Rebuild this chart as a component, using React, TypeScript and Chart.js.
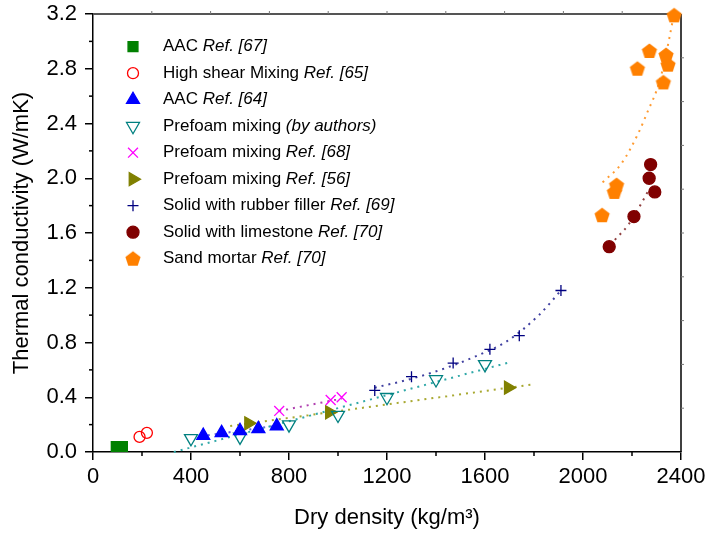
import React, { useEffect, useRef } from 'react';
import { Chart, registerables } from 'chart.js';
import { drawPoint } from 'chart.js/helpers';

Chart.register(...registerables);

const FONT = '"Liberation Sans", Arial, Helvetica, sans-serif';

// ---- data ----
const aac67X = [95, 120];
const aac67Y = [0.04, 0.04];
const shearX = [190, 220];
const shearY = [0.11, 0.14];
const aac64X = [450, 525, 600, 675, 750];
const aac64Y = [0.12, 0.14, 0.155, 0.17, 0.19];
const authorsX = [400, 600, 800, 1000, 1200, 1400, 1600];
const authorsY = [0.1, 0.11, 0.2, 0.27, 0.4, 0.53, 0.64];
const ref68X = [760, 970, 1015];
const ref68Y = [0.3, 0.38, 0.4];
const ref56X = [635, 965, 1695];
const ref56Y = [0.21, 0.29, 0.47];
const rubberX = [1150, 1300, 1470, 1620, 1740, 1910];
const rubberY = [0.45, 0.55, 0.65, 0.75, 0.85, 1.18];
const limeX = [2107, 2208, 2293, 2270, 2276];
const limeY = [1.5, 1.72, 1.9, 2.0, 2.1];
const sandX = [2078, 2128, 2137, 2222, 2271, 2328, 2347, 2339, 2372];
const sandY = [1.73, 1.9, 1.95, 2.8, 2.93, 2.7, 2.83, 2.9, 3.19];

// trend lines (dotted)
const trendAuthorsX = [330, 1700];
const trendAuthorsY = [0, 0.655];
const trend56X = [560, 1800];
const trend56Y = [0.19, 0.495];
const trend68X = [760, 1015];
const trend68Y = [0.3, 0.39];
const trend64X = [440, 760];
const trend64Y = [0.115, 0.195];
const trendRubberX = [1150, 1300, 1450, 1550, 1690, 1820, 1910];
const trendRubberY = [0.47, 0.535, 0.62, 0.69, 0.81, 1.0, 1.18];
const trendLimeX = [2130, 2185, 2233, 2267];
const trendLimeY = [1.55, 1.66, 1.8, 1.91];
const trendSandX = [2080, 2158, 2226, 2267, 2301, 2328, 2352, 2366];
const trendSandY = [1.97, 2.11, 2.33, 2.5, 2.645, 2.815, 3.02, 3.15];

const seriesNames = [
  'AAC ',
  'High shear Mixing ',
  'AAC ',
  'Prefoam mixing ',
  'Prefoam mixing ',
  'Prefoam mixing ',
  'Solid with rubber filler ',
  'Solid with limestone ',
  'Sand mortar ',
];
const seriesRefs = [
  'Ref. [67]',
  'Ref. [65]',
  'Ref. [64]',
  '(by authors)',
  'Ref. [68]',
  'Ref. [56]',
  'Ref. [69]',
  'Ref. [70]',
  'Ref. [70]',
];

const X_MIN = 0;
const X_MAX = 2400;
const X_STEP = 400;
const Y_MIN = 0;
const Y_MAX = 3.2;
const Y_STEP = 0.4;

function pts(xs: number[], ys: number[]) {
  return xs.map((x, i) => ({ x, y: ys[i] }));
}

function makePentagon(color: string, r: number): HTMLCanvasElement {
  const s = Math.ceil(2 * r + 2);
  const c = document.createElement('canvas');
  c.width = s;
  c.height = s;
  const g = c.getContext('2d')!;
  g.fillStyle = color;
  g.beginPath();
  for (let k = 0; k < 5; k++) {
    const a = -Math.PI / 2 + (k * 2 * Math.PI) / 5;
    const px = s / 2 + r * Math.cos(a);
    const py = s / 2 + 0.6 + r * Math.sin(a);
    if (k === 0) g.moveTo(px, py);
    else g.lineTo(px, py);
  }
  g.closePath();
  g.fill();
  return c;
}

export default function App() {
  const ref = useRef<HTMLCanvasElement | null>(null);

  useEffect(() => {
    if (!ref.current) return;
    const pent = makePentagon('#FF8000', 8);

    const styles: any[] = [
      { pointStyle: 'rect', radius: 7, rotation: 0, color: '#008000', fill: true },
      { pointStyle: 'circle', radius: 5.5, rotation: 0, color: '#FF0000', fill: false },
      { pointStyle: 'triangle', radius: 7.5, rotation: 0, color: '#0000FF', fill: true },
      { pointStyle: 'triangle', radius: 7.5, rotation: 180, color: '#008080', fill: false },
      { pointStyle: 'crossRot', radius: 7, rotation: 0, color: '#FF00FF', fill: false },
      { pointStyle: 'triangle', radius: 7.5, rotation: 90, color: '#808000', fill: true },
      { pointStyle: 'cross', radius: 5.5, rotation: 0, color: '#000080', fill: false },
      { pointStyle: 'circle', radius: 6, rotation: 0, color: '#800000', fill: true },
      { pointStyle: pent, radius: 8, rotation: 0, color: '#FF8000', fill: true },
    ];

    const marker = (data: any[], i: number) => {
      const s = styles[i];
      return {
        type: 'scatter' as const,
        data,
        showLine: false,
        order: 1,
        clip: false as any,
        pointStyle: s.pointStyle,
        pointRadius: s.radius,
        pointRotation: s.rotation,
        pointBackgroundColor: s.fill ? s.color : 'rgba(0,0,0,0)',
        pointBorderColor: s.color,
        pointBorderWidth: 1.3,
        backgroundColor: s.color,
        borderColor: s.color,
      };
    };

    const trend = (data: any[], color: string) => ({
      type: 'scatter' as const,
      data,
      showLine: true,
      order: 2,
      clip: false as any,
      pointRadius: 0,
      borderColor: color,
      borderWidth: 2,
      borderDash: [2, 5],
      cubicInterpolationMode: 'monotone' as const,
      fill: false,
    });

    const legendPlugin = {
      id: 'customLegend',
      afterDraw(chart: any) {
        const { ctx, chartArea } = chart;
        const mx = chartArea.left + 40;
        const tx = chartArea.left + 70;
        const y0 = chartArea.top + 32.7;
        const dy = 26.5;
        ctx.save();
        ctx.textBaseline = 'middle';
        ctx.textAlign = 'left';
        seriesNames.forEach((name, i) => {
          const s = styles[i];
          const y = y0 + i * dy;
          ctx.save();
          ctx.fillStyle = s.fill ? s.color : 'rgba(0,0,0,0)';
          ctx.strokeStyle = s.color;
          ctx.lineWidth = 1.3;
          drawPoint(ctx, { pointStyle: s.pointStyle, radius: s.radius, rotation: s.rotation, borderWidth: 1.3 } as any, mx, y);
          ctx.restore();
          ctx.fillStyle = '#000';
          ctx.font = `17px ${FONT}`;
          ctx.fillText(name, tx, y);
          const w = ctx.measureText(name).width;
          ctx.font = `italic 17px ${FONT}`;
          ctx.fillText(seriesRefs[i], tx + w, y);
        });
        ctx.restore();
      },
    };

    const framePlugin = {
      id: 'frame',
      beforeDatasetsDraw(chart: any) {
        const { ctx, chartArea } = chart;
        const { left, right, top, bottom } = chartArea;
        const xs = chart.scales.x;
        const ys = chart.scales.y;
        ctx.save();
        ctx.strokeStyle = '#555';
        ctx.lineWidth = 2;
        ctx.beginPath();
        ctx.moveTo(left, top);
        ctx.lineTo(right, top);
        ctx.stroke();
        ctx.strokeStyle = '#000';
        ctx.lineWidth = 1.5;
        ctx.beginPath();
        ctx.moveTo(right, top);
        ctx.lineTo(right, bottom);
        ctx.stroke();
        ctx.strokeStyle = '#777';
        ctx.lineWidth = 1;
        for (let k = 1; k < 10; k++) {
          const px = left + ((right - left) * k) / 10;
          ctx.beginPath();
          ctx.moveTo(px, top);
          ctx.lineTo(px, top - 3);
          ctx.stroke();
          const py = top + ((bottom - top) * k) / 10;
          ctx.beginPath();
          ctx.moveTo(right, py);
          ctx.lineTo(right + 3, py);
          ctx.stroke();
        }
        ctx.strokeStyle = '#000';
        ctx.lineWidth = 1.5;
        for (let v = X_MIN + X_STEP / 2; v < X_MAX; v += X_STEP) {
          const px = xs.getPixelForValue(v);
          ctx.beginPath();
          ctx.moveTo(px, bottom);
          ctx.lineTo(px, bottom + 4);
          ctx.stroke();
        }
        for (let v = Y_MIN + Y_STEP / 2; v < Y_MAX; v += Y_STEP) {
          const py = ys.getPixelForValue(v);
          ctx.beginPath();
          ctx.moveTo(left, py);
          ctx.lineTo(left - 4, py);
          ctx.stroke();
        }
        ctx.restore();
      },
    };

    const chart = new Chart(ref.current, {
      type: 'scatter',
      data: {
        datasets: [
          trend(pts(trendAuthorsX, trendAuthorsY), '#30A8A8'),
          trend(pts(trend56X, trend56Y), '#A8A830'),
          trend(pts(trend68X, trend68Y), '#B040B0'),
          trend(pts(trend64X, trend64Y), '#6060E0'),
          trend(pts(trendRubberX, trendRubberY), '#4040A0'),
          trend(pts(trendLimeX, trendLimeY), '#904040'),
          trend(pts(trendSandX, trendSandY), '#FF9A30'),
          marker(pts(aac67X, aac67Y), 0),
          marker(pts(shearX, shearY), 1),
          marker(pts(aac64X, aac64Y), 2),
          marker(pts(authorsX, authorsY), 3),
          marker(pts(ref68X, ref68Y), 4),
          marker(pts(ref56X, ref56Y), 5),
          marker(pts(rubberX, rubberY), 6),
          marker(pts(limeX, limeY), 7),
          marker(pts(sandX, sandY), 8),
        ] as any,
      },
      options: {
        animation: false,
        responsive: false,
        maintainAspectRatio: false,
        layout: { padding: { top: 14, right: 25, left: 0, bottom: 0 } },
        plugins: {
          legend: { display: false },
          tooltip: { enabled: false },
        },
        scales: {
          x: {
            type: 'linear',
            min: X_MIN,
            max: X_MAX,
            afterFit: (s: any) => {
              s.height = 83;
              s.paddingLeft = 0;
              s.paddingRight = 0;
            },
            ticks: {
              stepSize: X_STEP,
              autoSkip: false,
              maxRotation: 0,
              padding: 4,
              color: '#000',
              font: { family: FONT, size: 22 },
              callback: (v: any) => String(Math.round(Number(v))),
            },
            grid: {
              drawOnChartArea: false,
              drawTicks: true,
              tickLength: 8,
              color: '#000',
              lineWidth: 1.5,
            },
            border: { display: true, color: '#000', width: 1.5 },
            title: {
              display: true,
              text: 'Dry density (kg/m\u00B3)',
              color: '#000',
              font: { family: FONT, size: 22 },
              padding: { top: 0, bottom: 4 },
            },
          },
          y: {
            type: 'linear',
            min: Y_MIN,
            max: Y_MAX,
            afterFit: (s: any) => {
              s.width = 93;
              s.paddingTop = 0;
              s.paddingBottom = 0;
            },
            ticks: {
              stepSize: Y_STEP,
              padding: 8,
              color: '#000',
              font: { family: FONT, size: 22 },
              callback: (v: any) => Number(v).toFixed(1),
            },
            grid: {
              drawOnChartArea: false,
              drawTicks: true,
              tickLength: 8,
              color: '#000',
              lineWidth: 1.5,
            },
            border: { display: true, color: '#000', width: 1.5 },
            title: {
              display: true,
              text: 'Thermal conductivity (W/mK)',
              color: '#000',
              font: { family: FONT, size: 22 },
              padding: { top: 9, bottom: 0 },
            },
          },
        },
      },
      plugins: [framePlugin, legendPlugin],
    });

    return () => chart.destroy();
  }, []);

  return (
    <div style={{ position: 'fixed', left: 0, top: 0, width: 706, height: 535, background: '#fff' }}>
      <canvas ref={ref} width={706} height={535} style={{ width: 706, height: 535, display: 'block' }} />
    </div>
  );
}
